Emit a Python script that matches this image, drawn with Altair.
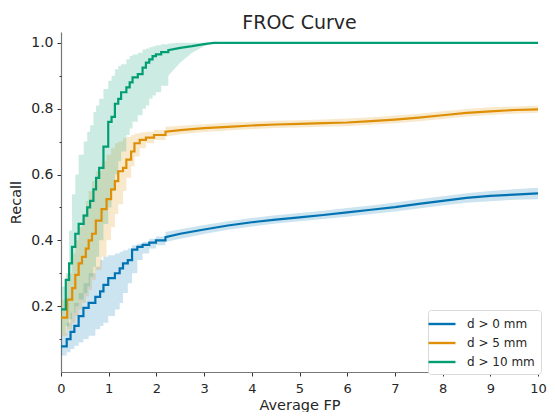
import altair as alt
import pandas as pd

SERIES = ["d > 0 mm", "d > 5 mm", "d > 10 mm"]
COLORS = ["#0173b2", "#de8f05", "#029e73"]

# ---- d > 0 mm : stepped part (low FP) ----
B_SX = [0, 0.12, 0.20, 0.28, 0.37, 0.47, 0.58, 0.72, 0.82, 0.89, 0.99, 1.13, 1.23, 1.30, 1.40, 1.49, 1.60, 1.71, 1.85, 1.99, 2.19]
B_SY = [0.078, 0.10, 0.122, 0.14, 0.17, 0.195, 0.21, 0.228, 0.245, 0.265, 0.285, 0.30, 0.315, 0.33, 0.34, 0.372, 0.38, 0.386, 0.393, 0.40, 0.41]
B_SLO = [0.05, 0.06, 0.07, 0.08, 0.09, 0.10, 0.11, 0.13, 0.14, 0.15, 0.17, 0.19, 0.21, 0.24, 0.27, 0.30, 0.34, 0.36, 0.375, 0.385, 0.395]
B_SHI = [0.12, 0.15, 0.18, 0.21, 0.24, 0.27, 0.30, 0.32, 0.34, 0.35, 0.355, 0.36, 0.365, 0.37, 0.375, 0.385, 0.39, 0.395, 0.405, 0.412, 0.425]
# ---- d > 0 mm : smooth part ----
B_X = [2.5, 3, 3.5, 4, 4.5, 5, 5.5, 6, 6.5, 7, 7.5, 8, 8.5, 9, 9.5, 10]
B_Y = [0.42, 0.433, 0.445, 0.455, 0.463, 0.470, 0.477, 0.485, 0.493, 0.501, 0.511, 0.520, 0.529, 0.535, 0.539, 0.543]
B_LO = [0.405, 0.419, 0.432, 0.442, 0.451, 0.458, 0.465, 0.472, 0.480, 0.488, 0.497, 0.506, 0.514, 0.519, 0.523, 0.525]
B_HI = [0.434, 0.447, 0.458, 0.468, 0.476, 0.483, 0.490, 0.498, 0.506, 0.515, 0.525, 0.534, 0.543, 0.550, 0.555, 0.560]

# ---- d > 5 mm ----
O_SX = [0, 0.13, 0.235, 0.30, 0.37, 0.44, 0.52, 0.58, 0.65, 0.73, 0.85, 0.955, 1.05, 1.13, 1.20, 1.30, 1.37, 1.47, 1.54, 1.65, 1.78, 1.95, 2.19]
O_SY = [0.165, 0.22, 0.255, 0.295, 0.33, 0.35, 0.375, 0.40, 0.42, 0.46, 0.495, 0.525, 0.555, 0.58, 0.61, 0.62, 0.645, 0.67, 0.695, 0.705, 0.712, 0.72, 0.73]
O_SLO = [0.11, 0.13, 0.15, 0.17, 0.19, 0.21, 0.23, 0.25, 0.28, 0.31, 0.35, 0.40, 0.44, 0.48, 0.51, 0.55, 0.59, 0.625, 0.655, 0.68, 0.695, 0.705, 0.715]
O_SHI = [0.22, 0.30, 0.36, 0.40, 0.44, 0.48, 0.52, 0.55, 0.58, 0.61, 0.64, 0.66, 0.68, 0.695, 0.70, 0.71, 0.715, 0.72, 0.725, 0.728, 0.73, 0.735, 0.745]
O_X = [2.5, 3, 3.5, 4, 4.5, 5, 5.5, 6, 6.5, 7, 7.5, 8, 8.5, 9, 9.5, 10]
O_Y = [0.735, 0.741, 0.745, 0.749, 0.752, 0.754, 0.756, 0.758, 0.762, 0.767, 0.773, 0.780, 0.787, 0.792, 0.796, 0.798]
O_LO = [0.722, 0.729, 0.734, 0.738, 0.741, 0.743, 0.745, 0.747, 0.751, 0.756, 0.762, 0.769, 0.776, 0.781, 0.785, 0.788]
O_HI = [0.748, 0.753, 0.757, 0.760, 0.763, 0.765, 0.767, 0.770, 0.774, 0.779, 0.785, 0.792, 0.799, 0.804, 0.807, 0.809]

# ---- d > 10 mm ----
G_SX = [0, 0.10, 0.17, 0.23, 0.30, 0.37, 0.475, 0.55, 0.61, 0.68, 0.735, 0.80, 0.89, 0.99, 1.06, 1.13, 1.20, 1.26, 1.37, 1.44, 1.50, 1.61, 1.71, 1.78, 1.85, 1.92, 1.99, 2.10, 2.25]
G_SY = [0.19, 0.28, 0.33, 0.38, 0.42, 0.45, 0.475, 0.50, 0.52, 0.555, 0.59, 0.62, 0.685, 0.76, 0.775, 0.815, 0.83, 0.85, 0.865, 0.88, 0.895, 0.905, 0.925, 0.94, 0.95, 0.96, 0.965, 0.972, 0.978]
G_SLO = [0.12, 0.14, 0.16, 0.18, 0.20, 0.22, 0.24, 0.26, 0.29, 0.32, 0.35, 0.40, 0.45, 0.50, 0.55, 0.60, 0.64, 0.67, 0.72, 0.74, 0.76, 0.78, 0.80, 0.81, 0.83, 0.84, 0.85, 0.87, 0.90]
G_SHI = [0.26, 0.30, 0.43, 0.54, 0.60, 0.66, 0.70, 0.73, 0.75, 0.79, 0.81, 0.83, 0.86, 0.885, 0.90, 0.92, 0.93, 0.935, 0.95, 0.96, 0.965, 0.97, 0.98, 0.983, 0.987, 0.99, 0.993, 0.996, 0.998]
G_X = [2.5, 2.75, 3.0, 3.2, 10]
G_Y = [0.985, 0.99, 0.996, 1.0, 1.0]
G_LO = [0.94, 0.97, 0.99, 1.0, 1.0]
G_HI = [1.0, 1.0, 1.0, 1.0, 1.0]

Y_MAJOR = [0.2, 0.4, 0.6, 0.8, 1.0]
Y_MINOR = [0.1, 0.3, 0.5, 0.7, 0.9]
X_TICKS = [0, 1, 2, 3, 4, 5, 6, 7, 8, 9, 10]


def build(name, sx, sy, slo, shi, x, y, lo, hi):
    rows = []
    k = 0
    for i in range(len(sx)):
        if i > 0:
            rows.append(dict(series=name, i=k, fp=sx[i], recall=sy[i - 1], lo=slo[i - 1], hi=shi[i - 1]))
            k += 1
        rows.append(dict(series=name, i=k, fp=sx[i], recall=sy[i], lo=slo[i], hi=shi[i]))
        k += 1
    for j in range(len(x)):
        rows.append(dict(series=name, i=k, fp=x[j], recall=y[j], lo=lo[j], hi=hi[j]))
        k += 1
    return rows


rows = []
rows += build(SERIES[0], B_SX, B_SY, B_SLO, B_SHI, B_X, B_Y, B_LO, B_HI)
rows += build(SERIES[1], O_SX, O_SY, O_SLO, O_SHI, O_X, O_Y, O_LO, O_HI)
rows += build(SERIES[2], G_SX, G_SY, G_SLO, G_SHI, G_X, G_Y, G_LO, G_HI)
df = pd.DataFrame(rows)

FONT = "DejaVu Sans"
TXT = "#262626"

xscale = alt.Scale(domain=[0, 10], nice=False, zero=False)
yscale = alt.Scale(domain=[0.0, 1.033], nice=False, zero=False)
cscale = alt.Scale(domain=SERIES, range=COLORS)

legend = alt.Legend(
    title=None, orient="none", legendX=367, legendY=278,
    symbolType="M-2,0H2", symbolSize=182, symbolStrokeWidth=2.4,
    symbolOpacity=1,
    labelFontSize=12, labelFont=FONT, labelColor=TXT,
    strokeColor="#d9d9d9", fillColor="white", cornerRadius=3, padding=6,
    rowPadding=5, labelOffset=17,
)

xaxis = alt.Axis(values=X_TICKS, format="d", title="Average FP", grid=False,
                 tickSize=4, labelPadding=6, titlePadding=3, labelFontSize=13,
                 titleFontSize=14.5, labelFont=FONT, titleFont=FONT,
                 labelColor=TXT, titleColor=TXT, titleFontWeight="normal",
                 domainColor="#777", tickColor="#333", domainWidth=1.2, labelFlush=False)
yaxis = alt.Axis(values=Y_MAJOR, format=".1f", title="Recall", grid=False,
                 tickSize=4, labelPadding=4, titlePadding=7, labelFontSize=14,
                 titleFontSize=14.5, labelFont=FONT, titleFont=FONT,
                 labelColor=TXT, titleColor=TXT, titleFontWeight="normal",
                 domainColor="#777", tickColor="#333", domainWidth=1.2, orient="left")

band = alt.Chart(df).mark_area(fillOpacity=0.2).encode(
    x=alt.X("fp:Q", scale=xscale, axis=xaxis),
    y=alt.Y("lo:Q", scale=yscale, axis=yaxis, stack=None),
    y2="hi:Q",
    color=alt.Color("series:N", scale=cscale, sort=SERIES, legend=legend),
    detail="series:N",
)

line = alt.Chart(df).mark_line(strokeWidth=2.2).encode(
    x=alt.X("fp:Q", scale=xscale),
    y=alt.Y("recall:Q", scale=yscale, axis=None),
    color=alt.Color("series:N", scale=cscale, sort=SERIES, legend=legend),
    order="i:Q",
)

minor_df = pd.DataFrame({"v": Y_MINOR})
minor = alt.Chart(minor_df).mark_point(opacity=0).encode(
    y=alt.Y("v:Q", scale=yscale, axis=alt.Axis(
        orient="left", values=Y_MINOR, labels=False, domain=False, grid=False,
        tickSize=2, tickColor="#333", title=None)),
)

chart = alt.layer(band, line, minor).resolve_axis(y="independent").properties(
    width=477, height=340,
    title=alt.Title("FROC Curve", fontSize=19, font=FONT, fontWeight="normal",
                    color=TXT, anchor="middle", frame="group", offset=-1),
    autosize=alt.AutoSizeParams(type="none"),
    padding={"left": 53, "top": 24, "right": 9, "bottom": 40},
).configure_view(stroke=None)

chart.save("out.html", embed_options={"renderer": "svg", "actions": False})
